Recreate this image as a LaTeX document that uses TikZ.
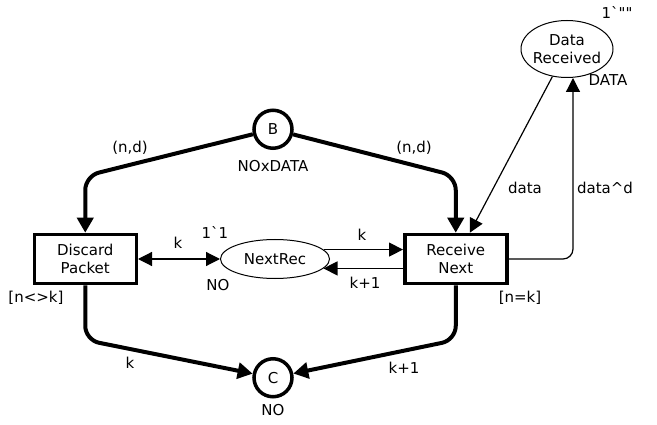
\documentclass[tikz,border=0pt]{standalone}
\usepackage{fontspec}
\setmainfont{DejaVu Sans}[Ligatures=TeXOff]
\usepackage{tikz}
\usetikzlibrary{arrows.meta,positioning,shapes.geometric}
\tikzset{
    %Define standard arrow tips
    bigtip/.tip={Triangle[length=15pt,width=16pt]},
    smalltip/.tip={Triangle[length=14pt,width=14pt]},
    %Define style for transitions
    trans/.style={
           rectangle,
           draw=black, line width=3.5pt,
           minimum width=102pt,
           minimum height=49pt,
           align=center,
           inner sep=2pt},
    %Define style for places
    place/.style={
           ellipse,
           draw=black, line width=1pt,
           align=center,
           inner sep=0pt},
    port/.style={
           circle,
           draw=black, line width=3.5pt,
           minimum size=38pt,
           inner sep=0pt},
    inscr/.style={
           inner sep=1pt},
    % Define arc styles
    thickarc/.style={
           -bigtip,
           line width=4pt,
           rounded corners=14pt},
    thinarc/.style={
           -smalltip,
           line width=1.2pt}
}
\begin{document}
\begin{tikzpicture}[x=1pt,y=1pt,font=\fontsize{15}{18}\selectfont]
\useasboundingbox (0,0) rectangle (657,424);
\node[place, minimum width=109pt, minimum height=39pt](nextrec) at (275,165){NextRec};
\node[trans, left=82pt of nextrec](discard){Discard\\Packet};
\node[trans, right=73pt of nextrec](receive){Receive\\Next};
\node[port, above=89pt of nextrec, xshift=-2pt](b){B};
\node[port, below=78pt of nextrec, xshift=-2pt](c){C};
\node[place, minimum width=92pt, minimum height=57pt, inner xsep=-2pt](datarec) at (567,375){Data\\Received};
% inscriptions
\node[inscr](bty) at (273,258){NOxDATA};
\node[inscr](bl) at (130,276){(n,d)};
\node[inscr](br) at (414,276){(n,d)};
\node[inscr](nrinit) at (215,191){1`1};
\node[inscr](nrty) at (218,139){NO};
\node[inscr](dk) at (178,181){k};
\node[inscr](rk) at (362,189){k};
\node[inscr](rk1) at (365,141){k+1};
\node[inscr](dguard) at (36,126){[n<>k]};
\node[inscr](rguard) at (520,126){[n=k]};
\node[inscr](ck) at (130,61){k};
\node[inscr](ck1) at (404,56){k+1};
\node[inscr](cty) at (273,14){NO};
\node[inscr](ldata) at (525,236){data};
\node[inscr](ldatad) at (605,236){data\textasciicircum d};
\node[inscr](drinit) at (617,411){1`""};
\node[inscr](drty) at (608,344){DATA};
% arcs
\draw[thickarc] (b) -- (discard.north |- 0,248) -- (discard.north);
\draw[thickarc] (b) -- (receive.north |- 0,248) -- (receive.north);
\draw[thickarc] (discard.south) -- (discard.south |- 0,84) -- (c);
\draw[thickarc] (receive.south) -- (receive.south |- 0,84) -- (c);
\draw[thinarc, smalltip-smalltip] (discard) -- (nextrec);
\draw[thinarc] (nextrec.11) -- (nextrec.11 -| receive.west);
\draw[thinarc] (receive.west |- nextrec.349) -- (nextrec.349);
\draw[thinarc] (datarec) -- ([xshift=14pt]receive.north);
\coordinate (dtop) at ([xshift=6pt]datarec.south);
\draw[thinarc, rounded corners=10pt] (receive.east) -- (dtop |- receive.east) -- (dtop);
\end{tikzpicture}
\end{document}
